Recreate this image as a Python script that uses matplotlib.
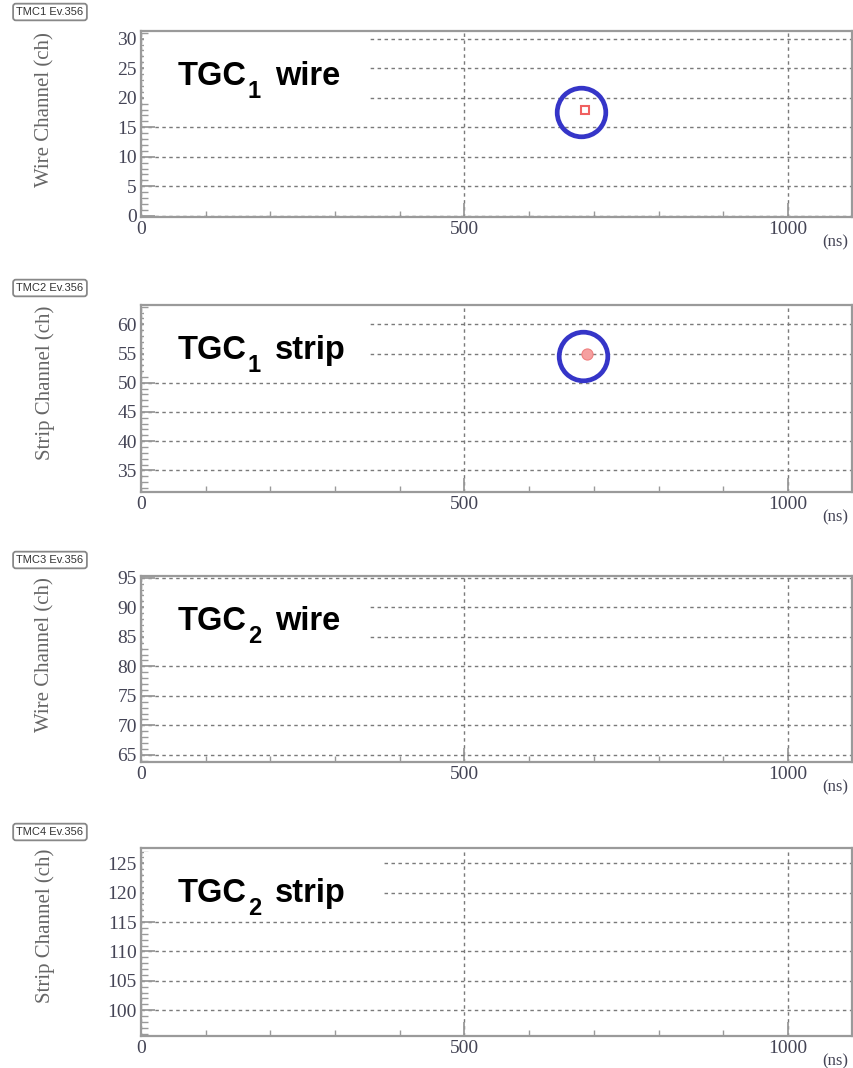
import matplotlib
matplotlib.use("Agg")
import matplotlib.pyplot as plt
from matplotlib.patches import Rectangle
from matplotlib.ticker import MultipleLocator, FixedLocator
import matplotlib.transforms as mtransforms

# ---- data ----
title_main = ["TGC", "TGC", "TGC", "TGC"]
title_sub = ["1", "1", "2", "2"]
title_tail = ["wire", "strip", "wire", "strip"]
tag_labels = ["TMC1 Ev.356", "TMC2 Ev.356", "TMC3 Ev.356", "TMC4 Ev.356"]
y_labels = ["Wire Channel (ch)", "Strip Channel (ch)", "Wire Channel (ch)", "Strip Channel (ch)"]
y_ranges = [(-0.2, 31.3), (31.3, 63.3), (63.8, 95.3), (95.6, 127.6)]
y_ticks = [
    [0, 5, 10, 15, 20, 25, 30],
    [35, 40, 45, 50, 55, 60],
    [65, 70, 75, 80, 85, 90, 95],
    [100, 105, 110, 115, 120, 125],
]
x_ticks = [0, 500, 1000]
x_range = (0, 1099)
hit_time = [[687], [689], [], []]      # ns
hit_channel = [[18], [55], [], []]     # ch
hit_style = ["square", "dot", None, None]

# ---- layout ----
W, H = 854, 1068
fig = plt.figure(figsize=(W / 100, H / 100), dpi=100)
renderer = fig.canvas.get_renderer()
left_px, right_px = 141, 852
tops = [31, 305, 576, 848]
bottoms = [217, 492, 762, 1036]
tag_centers = [12, 288, 560, 832]
mask_right = [0.322, 0.322, 0.322, 0.34]

serif = "Liberation Serif"
sans = "Liberation Sans"
grid_col = "#7a7a7a"
spine_col = "#9a9a9a"
label_col = "#444455"
title_size = 23.5
sub_size = 17

for i in range(4):
    ax = fig.add_axes([left_px / W, 1 - bottoms[i] / H,
                       (right_px - left_px) / W, (bottoms[i] - tops[i]) / H])
    ax.set_xlim(*x_range)
    ax.set_ylim(*y_ranges[i])
    ax.xaxis.set_major_locator(FixedLocator(x_ticks))
    ax.xaxis.set_minor_locator(MultipleLocator(100))
    ax.yaxis.set_major_locator(FixedLocator(y_ticks[i]))
    ax.yaxis.set_minor_locator(MultipleLocator(1))
    ax.tick_params(which='both', direction='in', colors=spine_col,
                   labelcolor=label_col, labelsize=14, pad=3)
    ax.tick_params(which='major', length=10, width=1.3)
    ax.tick_params(which='minor', length=5, width=1.0)
    ax.tick_params(axis='x', which='minor', length=4)
    for lab in ax.get_xticklabels() + ax.get_yticklabels():
        lab.set_fontfamily(serif)
    for sp in ax.spines.values():
        sp.set_color(spine_col)
        sp.set_linewidth(1.6)
    ax.grid(True, which='major', color=grid_col, linestyle=(0, (2.5, 2.5)), linewidth=1.0)
    ax.set_axisbelow(True)

    # white area behind the panel title
    ax.add_patch(Rectangle((0.004, 0.622), mask_right[i] - 0.004, 0.355,
                           transform=ax.transAxes, facecolor='white',
                           edgecolor='none', zorder=1.5))

    # panel title: main text, subscript, tail
    t1 = ax.text(0.052, 0.712, title_main[i], transform=ax.transAxes,
                 fontsize=title_size, fontweight='bold', family=sans,
                 va='baseline', ha='left', color='black', zorder=3)
    bb = t1.get_window_extent(renderer=renderer)
    inv = ax.transAxes.inverted()
    base_disp = ax.transAxes.transform((0.052, 0.712))
    sx, sy = inv.transform((bb.x1 + 1, base_disp[1] - 13))
    t2 = ax.text(sx, sy, title_sub[i], transform=ax.transAxes,
                 fontsize=sub_size, fontweight='bold', family=sans,
                 va='baseline', ha='left', color='black', zorder=3)
    bb2 = t2.get_window_extent(renderer=renderer)
    tx, ty = inv.transform((bb2.x1 + 14, base_disp[1]))
    ax.text(tx, ty, title_tail[i], transform=ax.transAxes,
            fontsize=title_size, fontweight='bold', family=sans,
            va='baseline', ha='left', color='black', zorder=3)

    # y label, aligned at top of axis
    trans = mtransforms.blended_transform_factory(fig.transFigure, ax.transAxes)
    ax.text(45 / W, 0.995, y_labels[i], transform=trans, rotation=90,
            ha='center', va='top', fontsize=15, family=serif, color='#666666')

    # x unit
    ax.text(0.977, -0.135, "(ns)", transform=ax.transAxes, ha='center',
            va='center', fontsize=12, family=serif, color=label_col)

    # tag box
    fig.text(50 / W, 1 - tag_centers[i] / H, tag_labels[i], ha='center',
             va='center', fontsize=8, family=sans, color='#333333',
             bbox=dict(boxstyle='round,pad=0.3,rounding_size=0.25', fc='white',
                       ec='#888888', lw=1.3))

    # hits
    if hit_time[i]:
        if hit_style[i] == "square":
            ax.plot(hit_time[i], hit_channel[i], 's', ms=6, mfc='none',
                    mec='#f06060', mew=1.5, zorder=4)
        else:
            ax.plot(hit_time[i], hit_channel[i], 'o', ms=8, mfc='#f5a0a0',
                    mec='#f08080', mew=0.8, zorder=4)
        off = mtransforms.offset_copy(ax.transData, fig=fig, x=-4, y=-2, units='dots')
        ax.plot(hit_time[i], hit_channel[i], 'o', ms=35, mfc='none',
                mec='#3535c8', mew=3.4, zorder=5, transform=off)

fig.savefig("out.png", dpi=100)
